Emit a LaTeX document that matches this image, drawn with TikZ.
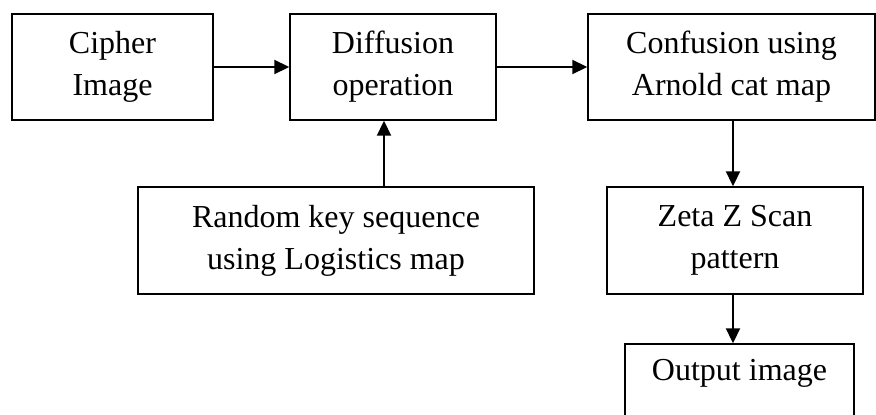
\documentclass[tikz,border=0pt]{standalone}
\usepackage{fontspec}
\setmainfont{Liberation Serif}
\usetikzlibrary{arrows.meta}
\tikzset{
  blockbox/.style={draw=black, line width=1.4pt, rectangle, inner sep=0pt,
    align=center, font=\fontsize{32}{42}\selectfont},
  flow/.style={line width=1.9pt, -{Triangle[length=15pt,width=14pt]}}
}
\begin{document}
\begin{tikzpicture}[x=1pt, y=-1pt]
\useasboundingbox (0,0) rectangle (876,415);
\clip (0,0) rectangle (876,415);
% processing stages
\node[blockbox, minimum width=201pt, minimum height=106pt] (cipher) at (112.5,67) {Cipher\\Image};
\node[blockbox, minimum width=206pt, minimum height=106pt] (diff) at (393,67) {Diffusion\\operation};
\node[blockbox, minimum width=287pt, minimum height=106pt] (conf) at (731.5,67) {Confusion using\\Arnold cat map};
\node[blockbox, minimum width=396pt, minimum height=107pt] (rand) at (336,240.5) {Random key sequence\\using Logistics map};
\node[blockbox, minimum width=256pt, minimum height=107pt] (zeta) at (735,240.5) {Zeta Z Scan\\pattern};
\node[blockbox, minimum width=229pt, minimum height=106pt] (out) at (739.5,397) {Output image\\\strut};
% connectors
\draw[flow] (cipher.east) -- (diff.west);
\draw[flow] (diff.east) -- (conf.west);
\draw[flow] (rand.north -| 384,0) -- (diff.south -| 384,0);
\draw[flow] (conf.south -| 733,0) -- (zeta.north -| 733,0);
\draw[flow] (zeta.south -| 733,0) -- (out.north -| 733,0);
\end{tikzpicture}
\end{document}
